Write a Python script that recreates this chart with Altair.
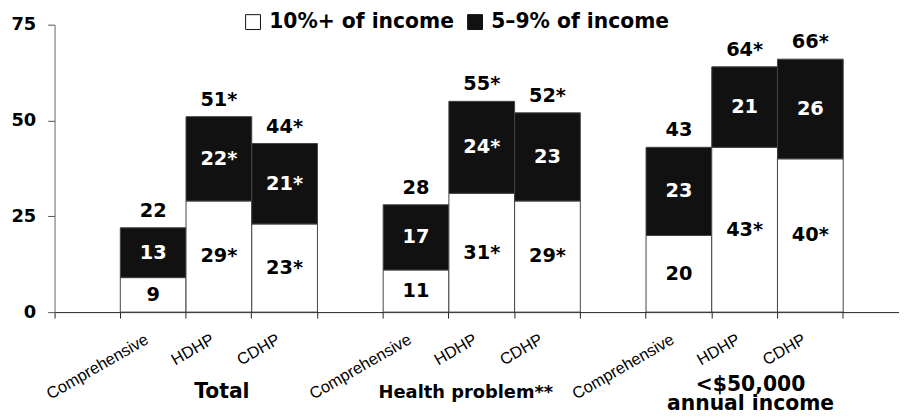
import altair as alt
import pandas as pd

groups = ["Total", "Health problem**", "<$50,000\nannual income"]
plans = ["Comprehensive", "HDHP", "CDHP"]
series = ["10%+ of income", "5–9% of income"]

white_vals = [9, 29, 23, 11, 31, 29, 20, 43, 40]
white_labels = ["9", "29*", "23*", "11", "31*", "29*", "20", "43*", "40*"]
black_vals = [13, 22, 21, 17, 24, 23, 23, 21, 26]
black_labels = ["13", "22*", "21*", "17", "24*", "23", "23", "21", "26"]
total_vals = [22, 51, 44, 28, 55, 52, 43, 64, 66]
total_labels = ["22", "51*", "44*", "28", "55*", "52*", "43", "64*", "66*"]

domain = []
keys = []
for gi, g in enumerate(groups):
    domain.append(f"pad{gi}")
    for p in plans:
        k = f"{gi}|{p}"
        domain.append(k)
        keys.append(k)
domain.append("pad3")

rows = []
for i, k in enumerate(keys):
    rows.append({"slot": k, "series": series[0], "ord": 0, "value": white_vals[i], "label": white_labels[i]})
    rows.append({"slot": k, "series": series[1], "ord": 1, "value": black_vals[i], "label": black_labels[i]})
df = pd.DataFrame(rows)

tot = pd.DataFrame({"slot": keys, "total": total_vals, "label": total_labels})

titles_a = pd.DataFrame({"slot": ["0|HDHP"], "title": [groups[0]]})
titles_b = pd.DataFrame({"slot": ["1|HDHP"], "title": [groups[1]]})
titles_c = pd.DataFrame({"slot": ["2|HDHP"], "title": [groups[2]]})

W, H = 852, 290
HEAVY = "DejaVu Sans"

xscale = alt.Scale(domain=domain, paddingInner=0, paddingOuter=0, range=[0, 862])
xaxis = alt.Axis(
    title=None,
    ticks=True,
    bandPosition=0,
    tickSize=6,
    tickColor="#222222",
    domainColor="#222222",
    labelAngle=330,
    labelFont="Liberation Sans",
    labelFontSize=16.5,
    labelColor="black",
    labelPadding=13,
    labelOffset=-10,
    labelExpr="indexof(datum.value, '|') >= 0 ? split(datum.value, '|')[1] : ''",
)

yscale = alt.Scale(domain=[0, 75], nice=False)
yaxis = alt.Axis(
    title=None,
    values=[0, 25, 50, 75],
    tickSize=7,
    tickColor="#555555",
    domainColor="#666666",
    grid=False,
    labelFont=HEAVY,
    labelFontWeight="bold",
    labelFontSize=18,
    labelColor="black",
    labelPadding=12,
)

bars = alt.Chart(df).mark_bar(stroke="#444444", strokeWidth=1).encode(
    x=alt.X("slot:N", sort=domain, scale=xscale, axis=xaxis),
    y=alt.Y("value:Q", stack="zero", scale=yscale, axis=yaxis),
    order=alt.Order("ord:Q", sort="ascending"),
    color=alt.Color(
        "series:N",
        sort=series,
        scale=alt.Scale(domain=series, range=["#ffffff", "#111111"]),
        legend=alt.Legend(
            title=None,
            orient="none",
            legendX=190,
            legendY=-13,
            direction="horizontal",
            symbolType="square",
            symbolSize=225,
            symbolStrokeColor="#111111",
            symbolStrokeWidth=1,
            labelFont=HEAVY,
            labelFontWeight="bold",
            labelFontSize=20.5,
            labelColor="black",
            labelLimit=400,
            labelOffset=6,
            columnPadding=10,
        ),
    ),
)

seg_text = alt.Chart(df).transform_stack(
    stack="value", groupby=["slot"], as_=["y0", "y1"], sort=[alt.SortField("ord", order="ascending")]
).transform_calculate(mid="(datum.y0 + datum.y1) / 2").mark_text(
    font=HEAVY, fontWeight="bold", fontSize=19.5, baseline="middle"
).encode(
    x=alt.X("slot:N", sort=domain),
    y=alt.Y("mid:Q", scale=yscale),
    text="label:N",
    color=alt.condition(alt.datum.ord == 1, alt.value("white"), alt.value("black")),
)

tot_text = alt.Chart(tot).mark_text(
    font=HEAVY, fontWeight="bold", fontSize=19.5, baseline="alphabetic", dy=-11
).encode(
    x=alt.X("slot:N", sort=domain),
    y=alt.Y("total:Q", scale=yscale),
    text="label:N",
    color=alt.value("black"),
)

t_a = alt.Chart(titles_a).mark_text(
    font=HEAVY, fontWeight="bold", fontSize=20.5, baseline="alphabetic", dx=3
).encode(x=alt.X("slot:N", sort=domain), y=alt.value(H + 87), text="title:N", color=alt.value("black"))

t_b = alt.Chart(titles_b).mark_text(
    font=HEAVY, fontWeight="bold", fontSize=18, baseline="alphabetic", dx=-16
).encode(x=alt.X("slot:N", sort=domain), y=alt.value(H + 87), text="title:N", color=alt.value("black"))

t_c = alt.Chart(titles_c).mark_text(
    font=HEAVY, fontWeight="bold", fontSize=20.5, baseline="alphabetic", lineBreak="\n", lineHeight=19, dx=6
).encode(x=alt.X("slot:N", sort=domain), y=alt.value(H + 80), text="title:N", color=alt.value("black"))

chart = alt.layer(bars, seg_text, tot_text, t_a, t_b, t_c).properties(
    width=W,
    height=H,
    autosize=alt.AutoSizeParams(type="none"),
    padding={"left": 47, "top": 15, "right": 0, "bottom": 104},
).configure_view(stroke=None)

chart.save("out.html", embed_options={"renderer": "svg", "actions": False})
